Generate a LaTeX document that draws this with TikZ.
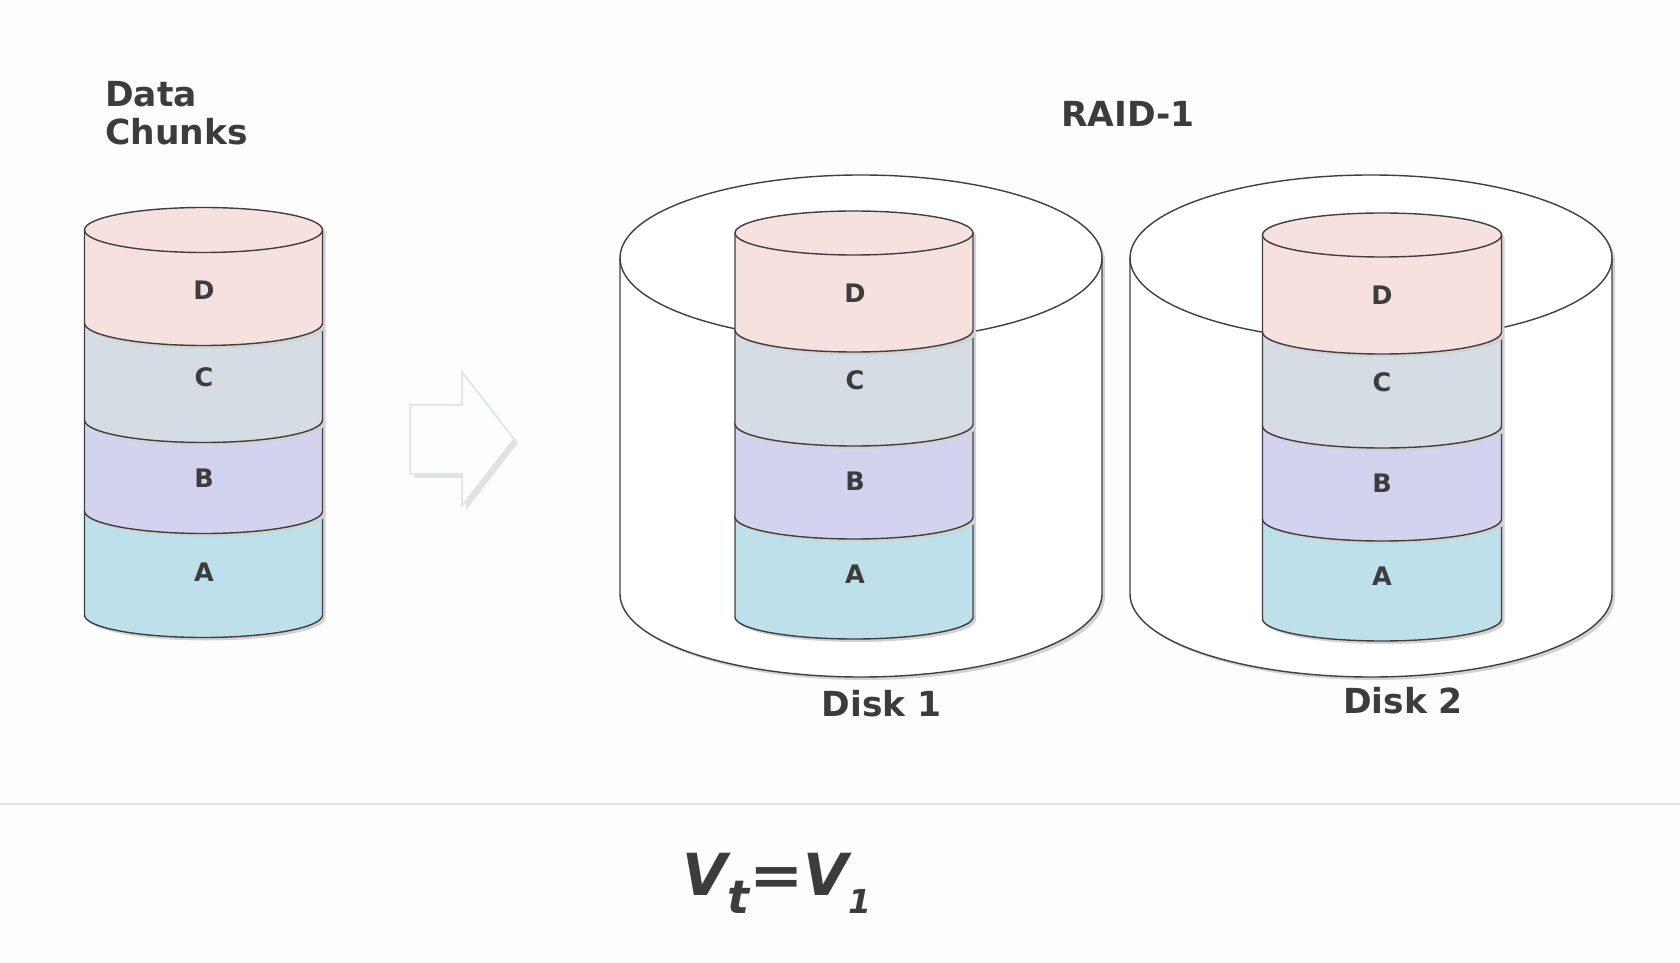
\documentclass[tikz,border=0pt]{standalone}
\usepackage{fontspec}
\setmainfont{DejaVu Sans}
\definecolor{bgc}{HTML}{FDFDFD}
\definecolor{txt}{HTML}{3C3C3C}
\definecolor{linec}{HTML}{3F3F3F}
\definecolor{shd}{HTML}{D2D2D2}
\definecolor{cD}{HTML}{F6E1DE}
\definecolor{cC}{HTML}{D5DCE4}
\definecolor{cB}{HTML}{D3D3F0}
\definecolor{cA}{HTML}{BEE0EA}
\definecolor{sepc}{HTML}{DDE1E7}
\definecolor{arrline}{HTML}{DCE2E8}
\definecolor{arrshd}{HTML}{E2E2E2}
% cx, rx, ry, top(px), bottom(px), fill
\newcommand\cylseg[6]{%
  \fill[shd] ({#1-#2+3},{962-#4-3}) -- ({#1-#2+3},{962-#5-3})
    arc[start angle=180,end angle=360,x radius=#2pt,y radius=#3pt]
    -- ({#1+#2+3},{962-#4-3})
    arc[start angle=0,end angle=180,x radius=#2pt,y radius=#3pt] -- cycle;
  \filldraw[fill=#6, seg] ({#1-#2},{962-#4}) -- ({#1-#2},{962-#5})
    arc[start angle=180,end angle=360,x radius=#2pt,y radius=#3pt]
    -- ({#1+#2},{962-#4})
    arc[start angle=0,end angle=180,x radius=#2pt,y radius=#3pt] -- cycle;
}
% top ellipse lower arc: cx, rx, ry, top(px)
\newcommand\cyltop[4]{%
  \draw[seg] ({#1-#2},{962-#4}) arc[start angle=180,end angle=360,x radius=#2pt,y radius=#3pt];
}
% stack: cx, rx, ry, e0..e4 edges(px)
\newcommand\stack[8]{%
  \cylseg{#1}{#2}{#3}{#7}{#8}{cA}
  \cylseg{#1}{#2}{#3}{#6}{#7}{cB}
  \cylseg{#1}{#2}{#3}{#5}{#6}{cC}
  \cylseg{#1}{#2}{#3}{#4}{#5}{cD}
  \cyltop{#1}{#2}{#3}{#4}
}
\begin{document}
\begin{tikzpicture}[x=1pt,y=1pt,
  seg/.style={draw=linec, line width=1.4pt},
  lbl/.style={text=txt, inner sep=0pt, font=\fontsize{34.5}{40}\selectfont\bfseries},
  chunk/.style={text=txt, inner sep=0pt, font=\fontsize{25.5}{25}\selectfont\bfseries}]
\useasboundingbox (0,0) rectangle (1680,962);
\fill[bgc] (0,0) rectangle (1680,962);

% titles
\node[lbl, anchor=base west] (t1) at (105,{962-107}) {Data};
\node[lbl, anchor=base west] (t2) at (105,{962-145}) {Chunks};
\node[lbl, anchor=base] (raid) at (1128,{962-127}) {RAID-1};

% left stack
\stack{203.5}{119}{22.5}{230}{323}{420}{511}{615}
\node[chunk] (lD) at (204,{962-290}) {D};
\node[chunk] (lC) at (204,{962-377}) {C};
\node[chunk] (lB) at (204,{962-478}) {B};
\node[chunk] (lA) at (204,{962-572}) {A};

% arrow
\fill[arrshd] (414,{962-409}) -- (466,{962-409}) -- (466,{962-376}) -- (518,{962-443})
  -- (466,{962-510}) -- (466,{962-478}) -- (414,{962-478}) -- cycle;
\filldraw[fill=bgc, draw=arrline, line width=1.5pt] (410,{962-405}) -- (462,{962-405}) -- (462,{962-372})
  -- (514,{962-439}) -- (462,{962-506}) -- (462,{962-474}) -- (410,{962-474}) -- cycle;

% disk 1 outer
\cylseg{861}{241}{83}{258}{594}{white}
\cyltop{861}{241}{83}{258}
\stack{854}{119}{22}{233}{330}{424}{517}{617}
\node[chunk] (aD) at (855,{962-293}) {D};
\node[chunk] (aC) at (855,{962-380}) {C};
\node[chunk] (aB) at (855,{962-481}) {B};
\node[chunk] (aA) at (855,{962-574}) {A};
\node[lbl, anchor=base] (disk1) at (881.5,{962-716}) {Disk 1};

% disk 2 outer
\cylseg{1371}{241}{83}{258}{594}{white}
\cyltop{1371}{241}{83}{258}
\stack{1382}{119.5}{22}{235}{332}{426}{519}{619}
\node[chunk] (bD) at (1382,{962-295}) {D};
\node[chunk] (bC) at (1382,{962-382}) {C};
\node[chunk] (bB) at (1382,{962-483}) {B};
\node[chunk] (bA) at (1382,{962-576}) {A};
\node[lbl, anchor=base] (disk2) at (1403,{962-713}) {Disk 2};

% separator
\draw[sepc, line width=2pt] (0,{962-804}) -- (1680,{962-804});

% formula
\node[text=txt, inner sep=0pt, anchor=base west, font=\fontsize{58}{58}\selectfont\bfseries\itshape] (formula)
  at (682,{962-895}) {V\raisebox{-18pt}{\fontsize{46}{46}\selectfont t}\scalebox{1.12}[1]{=}V\raisebox{-18pt}{\fontsize{33}{33}\selectfont 1}};
\end{tikzpicture}
\end{document}
